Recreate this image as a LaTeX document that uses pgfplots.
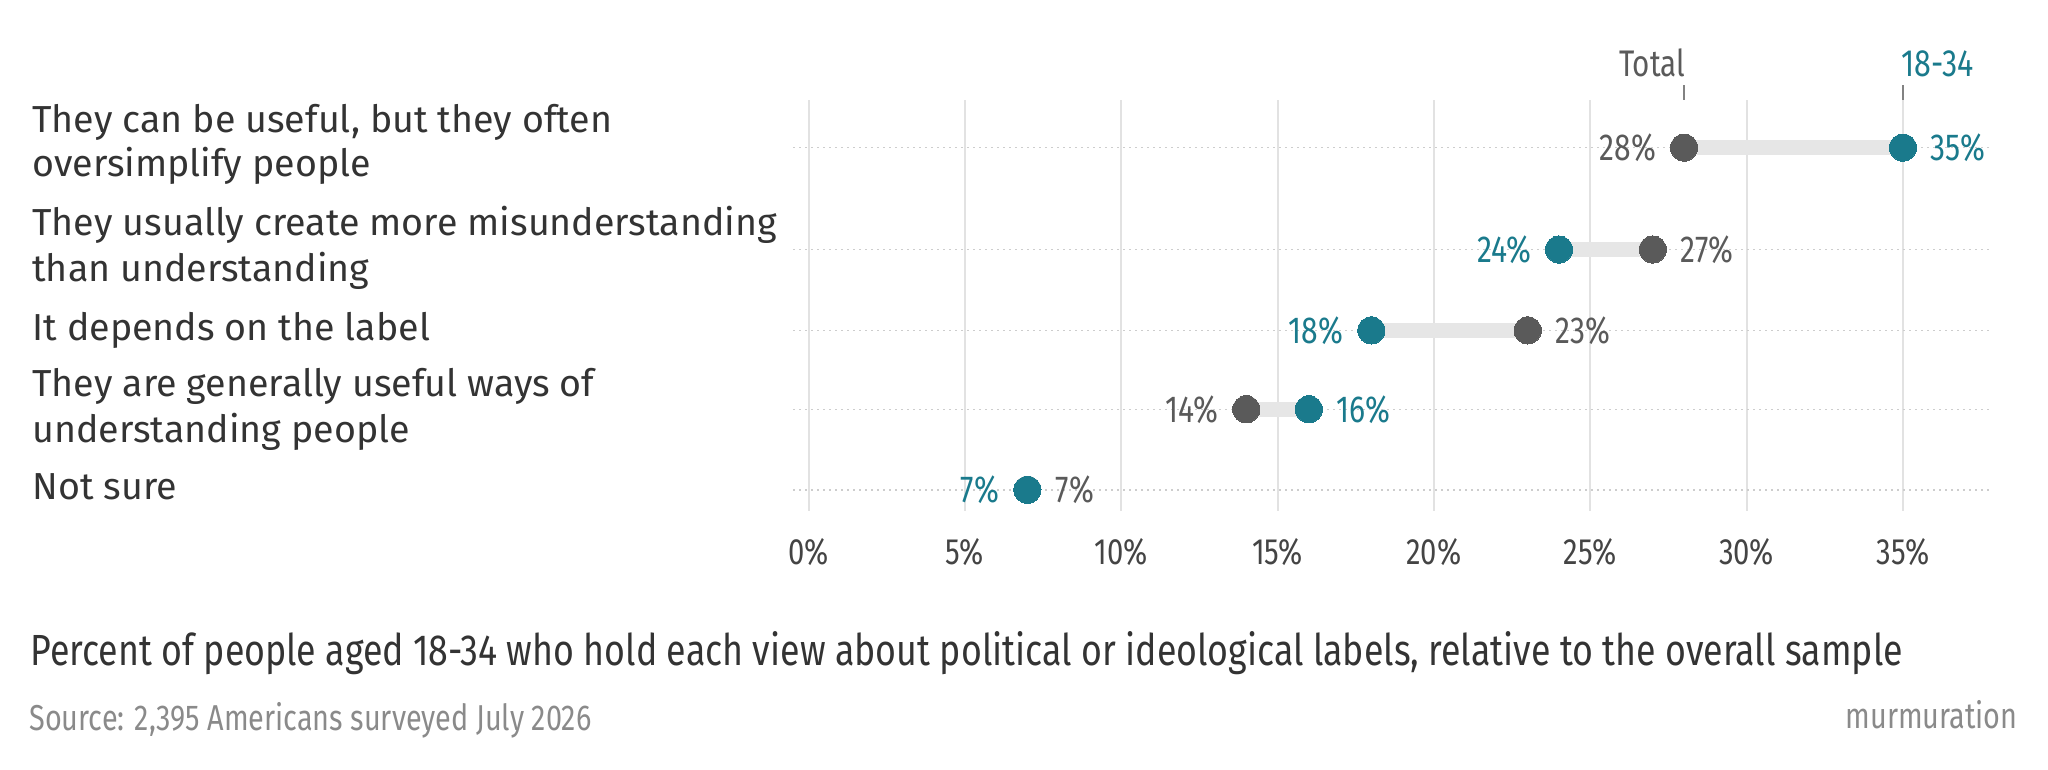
\documentclass[border=0pt]{standalone}
\usepackage{pgfplots}
\pgfplotsset{compat=1.18}
\usepackage{pgfplotstable}
\usepackage{fontspec}
\setmainfont{Fira Sans}
\newfontfamily\cond[FakeStretch=0.8]{Fira Sans}
\newfontfamily\condt[FakeStretch=0.82]{Fira Sans}
\definecolor{dotgray}{RGB}{90,90,90}
\definecolor{teal1}{RGB}{26,122,140}
\definecolor{bargray}{RGB}{230,230,230}
\definecolor{gridgray}{RGB}{226,226,226}
\definecolor{rowgray}{RGB}{205,205,205}
\definecolor{labgray}{RGB}{51,51,51}
\definecolor{tickgray}{RGB}{68,68,68}
\definecolor{srcgray}{RGB}{138,138,138}
\definecolor{marktick}{RGB}{130,130,130}

% y = row position (pixels from top), total, young = percent; gap = young - total
% tang / yang: label anchor angle (0 = label left of dot, 180 = label right of dot)
\pgfplotstableread{
y total young gap tang yang
147.6 28 35 7 0 180
249.5 27 24 -3 180 0
330.4 23 18 -5 180 0
409.3 14 16 2 0 180
489.8 7 7 0 180 0
}\dumbbell

\begin{document}
\begin{tikzpicture}
\useasboundingbox (0,0) rectangle (1024pt,-385pt);
\begin{scope}[x=0.5pt,y=-0.5pt,every node/.style={anchor=base west, inner sep=0pt, text=labgray, font=\fontsize{18.8}{23}\selectfont}]
\node at (32,132.3) {They can be useful, but they often};
\node at (32,176.7) {oversimplify people};
\node at (32,235) {They usually create more misunderstanding};
\node at (32,281) {than understanding};
\node at (32,340) {It depends on the label};
\node at (32,396) {They are generally useful ways of};
\node at (32,442) {understanding people};
\node at (32,499) {Not sure};
\node[font=\condt\fontsize{21.8}{26}\selectfont] at (30,665) {Percent of people aged 18-34 who hold each view about political or ideological labels, relative to the overall sample};
\node[font=\cond\fontsize{18}{21}\selectfont, text=srcgray] at (29,730) {Source: 2,395 Americans surveyed July 2026};
\node[anchor=base east, font=\cond\fontsize{18}{21}\selectfont, text=srcgray] at (2018,728) {murmuration};
\end{scope}
\begin{axis}[
  at={(396.5pt,-50pt)}, anchor=north west,
  scale only axis, width=599.5pt, height=205.5pt,
  xmin=-0.496, xmax=37.85, ymin=100, ymax=511, y dir=reverse,
  clip=false,
  axis line style={draw=none},
  major tick length=0pt,
  xtick={0,5,...,35},
  xticklabels={0\%,5\%,10\%,15\%,20\%,25\%,30\%,35\%},
  ytick={147.6,249.5,330.4,409.3,489.8},
  yticklabels={},
  xmajorgrids, ymajorgrids,
  x grid style={gridgray, line width=1pt},
  y grid style={rowgray, line width=0.8pt, dash pattern=on 0.8pt off 2.2pt},
  xticklabel style={font=\cond\fontsize{18.3}{20}\selectfont, text=tickgray, anchor=base, yshift=-26.5pt},
  /pgf/number format/assume math mode=true,
]
\addplot[only marks, mark=none, forget plot,
  error bars/.cd, x dir=plus, x explicit, error mark=none,
  error bar style={draw=bargray, line width=7.5pt}]
  table[x=total, y=y, x error=gap] {\dumbbell};
\addplot[only marks, color=dotgray, mark=*, mark size=6.8pt, mark options={draw=dotgray, fill=dotgray, line width=0pt},
  point meta=x,
  nodes near coords={\pgfmathprintnumber[fixed,precision=0]{\pgfplotspointmeta}\%},
  visualization depends on={\thisrow{tang}\as\anch},
  every node near coord/.append style={anchor=\anch, inner sep=0pt, outer xsep=14pt, outer ysep=0pt, font=\cond\fontsize{18.8}{20}\selectfont, text=dotgray}]
  table[x=total, y=y] {\dumbbell};
\addplot[only marks, color=teal1, mark=*, mark size=6.8pt, mark options={draw=teal1, fill=teal1, line width=0pt},
  point meta=x,
  nodes near coords={\pgfmathprintnumber[fixed,precision=0]{\pgfplotspointmeta}\%},
  visualization depends on={\thisrow{yang}\as\anch},
  every node near coord/.append style={anchor=\anch, inner sep=0pt, outer xsep=14pt, outer ysep=0pt, font=\cond\fontsize{18.8}{20}\selectfont, text=teal1}]
  table[x=young, y=y] {\dumbbell};
\draw[marktick, line width=0.6pt] (axis cs:28,85) -- (axis cs:28,100);
\draw[marktick, line width=0.6pt] (axis cs:35,85) -- (axis cs:35,100);
\node[anchor=base east, inner sep=0pt, text=dotgray, font=\cond\fontsize{18.5}{20}\selectfont] at (axis cs:28.05,76.7) {Total};
\node[anchor=base west, inner sep=0pt, text=teal1, font=\cond\fontsize{19}{20}\selectfont] at (axis cs:34.95,76.7) {18-34};
\end{axis}
\end{tikzpicture}
\end{document}
